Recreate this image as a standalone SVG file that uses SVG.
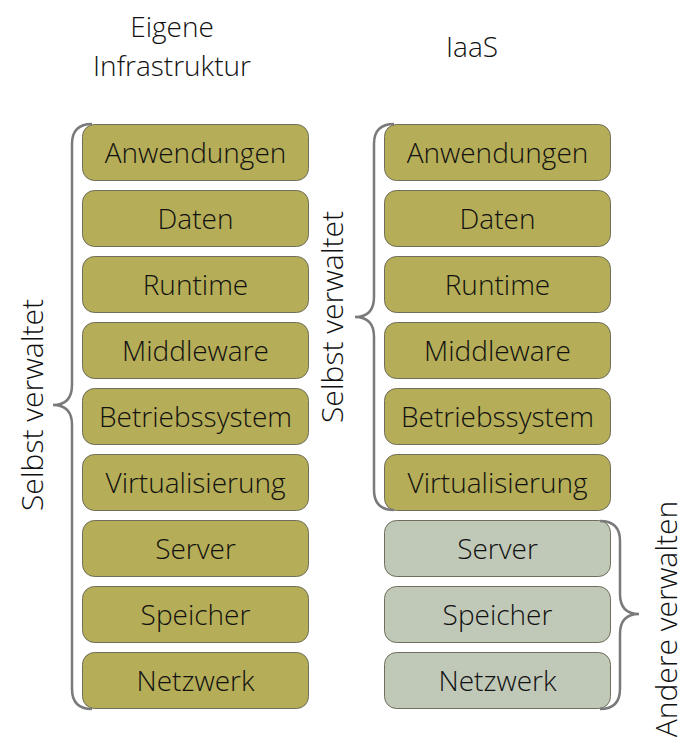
<svg xmlns="http://www.w3.org/2000/svg" width="698" height="746" viewBox="0 0 698 746">
<style>
.b{fill:#b5ad57;stroke:#6e6e5a;stroke-width:1}
.g{fill:#c0c8b8;stroke:#6e6e5a;stroke-width:1}
.t{font-family:"Open Sans","Liberation Sans",sans-serif;font-size:28px;font-weight:300;fill:#111;text-anchor:middle}
.v{font-size:30px}
.br{fill:none;stroke:#7a7a7a;stroke-width:2.5}
</style>
<rect width="698" height="746" fill="#fff"/>
<text class="t" x="172" y="37">Eigene</text>
<text class="t" x="172" y="76">Infrastruktur</text>
<text class="t" x="472" y="57">IaaS</text>
<g id="left">
<g id="l1"><rect class="b" x="82.5" y="124.5" width="226" height="56" rx="12"/><text class="t" x="195.5" y="162.5">Anwendungen</text></g>
<g id="l2"><rect class="b" x="82.5" y="190.5" width="226" height="56" rx="12"/><text class="t" x="195.5" y="228.5">Daten</text></g>
<g id="l3"><rect class="b" x="82.5" y="256.5" width="226" height="56" rx="12"/><text class="t" x="195.5" y="294.5">Runtime</text></g>
<g id="l4"><rect class="b" x="82.5" y="322.5" width="226" height="56" rx="12"/><text class="t" x="195.5" y="360.5">Middleware</text></g>
<g id="l5"><rect class="b" x="82.5" y="388.5" width="226" height="56" rx="12"/><text class="t" x="195.5" y="426.5">Betriebssystem</text></g>
<g id="l6"><rect class="b" x="82.5" y="454.5" width="226" height="56" rx="12"/><text class="t" x="195.5" y="492.5">Virtualisierung</text></g>
<g id="l7"><rect class="b" x="82.5" y="520.5" width="226" height="56" rx="12"/><text class="t" x="195.5" y="558.5">Server</text></g>
<g id="l8"><rect class="b" x="82.5" y="586.5" width="226" height="56" rx="12"/><text class="t" x="195.5" y="624.5">Speicher</text></g>
<g id="l9"><rect class="b" x="82.5" y="652.5" width="226" height="56" rx="12"/><text class="t" x="195.5" y="690.5">Netzwerk</text></g>
</g>
<g id="right">
<g id="r1"><rect class="b" x="384.5" y="124.5" width="226" height="56" rx="12"/><text class="t" x="497.5" y="162.5">Anwendungen</text></g>
<g id="r2"><rect class="b" x="384.5" y="190.5" width="226" height="56" rx="12"/><text class="t" x="497.5" y="228.5">Daten</text></g>
<g id="r3"><rect class="b" x="384.5" y="256.5" width="226" height="56" rx="12"/><text class="t" x="497.5" y="294.5">Runtime</text></g>
<g id="r4"><rect class="b" x="384.5" y="322.5" width="226" height="56" rx="12"/><text class="t" x="497.5" y="360.5">Middleware</text></g>
<g id="r5"><rect class="b" x="384.5" y="388.5" width="226" height="56" rx="12"/><text class="t" x="497.5" y="426.5">Betriebssystem</text></g>
<g id="r6"><rect class="b" x="384.5" y="454.5" width="226" height="56" rx="12"/><text class="t" x="497.5" y="492.5">Virtualisierung</text></g>
<g id="r7"><rect class="g" x="384.5" y="520.5" width="226" height="56" rx="12"/><text class="t" x="497.5" y="558.5">Server</text></g>
<g id="r8"><rect class="g" x="384.5" y="586.5" width="226" height="56" rx="12"/><text class="t" x="497.5" y="624.5">Speicher</text></g>
<g id="r9"><rect class="g" x="384.5" y="652.5" width="226" height="56" rx="12"/><text class="t" x="497.5" y="690.5">Netzwerk</text></g>
</g>
<g id="braces">
<path class="br" d="M92,124 Q72,124 72,144 L72,385 Q72,405 53,405 Q72,405 72,425 L72,689 Q72,709 92,709"/>
<path class="br" d="M394,124 Q374,124 374,144 L374,297 Q374,317 355,317 Q374,317 374,337 L374,490 Q374,510 394,510"/>
<path class="br" d="M600,521 Q620,521 620,541 L620,594 Q620,614 639,614 Q620,614 620,634 L620,689 Q620,709 600,709"/>
</g>
<g id="labels">
<text class="t v" transform="translate(43,405) rotate(-90)">Selbst verwaltet</text>
<text class="t v" transform="translate(343,317) rotate(-90)">Selbst verwaltet</text>
<text class="t v" transform="translate(677,619) rotate(-90)">Andere verwalten</text>
</g>
</svg>
